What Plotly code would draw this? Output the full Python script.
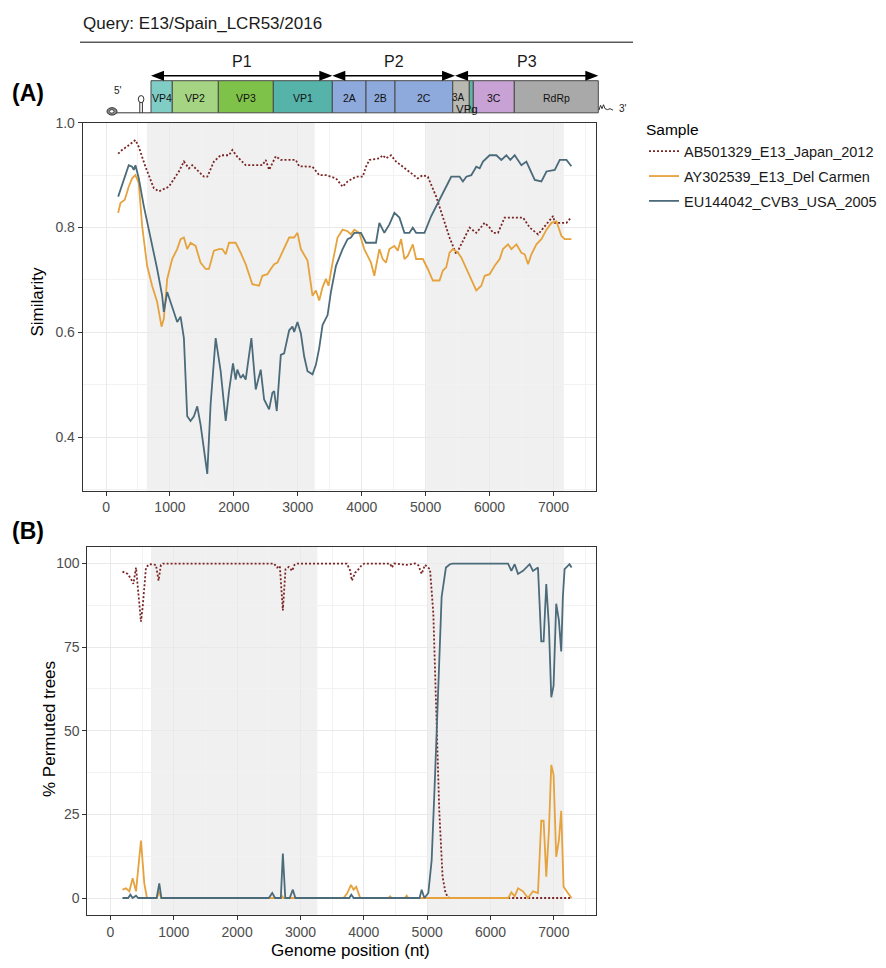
import plotly.graph_objects as go

# ---------------- data ----------------
sample_names = ["AB501329_E13_Japan_2012", "AY302539_E13_Del Carmen", "EU144042_CVB3_USA_2005"]
sample_colors = ["#7a2424", "#e6a23c", "#4b6b7a"]

# Panel A: similarity
jp_sim_x = [190, 250, 355, 460, 512, 617, 748, 826, 983, 1140, 1218, 1296, 1349, 1453, 1532, 1584, 1688, 1793, 1924, 1976,
            2054, 2185, 2446, 2499, 2551, 2656, 2734, 2969, 3021, 3230, 3335, 3440, 3597, 3701, 3779, 3910, 4015, 4067, 4119,
            4276, 4328, 4380, 4459, 4537, 4668, 4772, 4877, 4956, 5034, 5165, 5270, 5374, 5479, 5531, 5609, 5688, 5792, 5923,
            6001, 6053, 6132, 6236, 6524, 6628, 6759, 6864, 6994, 7020, 7203, 7280]
jp_sim_y = [0.941, 0.948, 0.957, 0.967, 0.954, 0.916, 0.875, 0.869, 0.878, 0.907, 0.926, 0.913, 0.919, 0.907, 0.897, 0.897,
            0.926, 0.938, 0.938, 0.948, 0.935, 0.919, 0.919, 0.929, 0.910, 0.936, 0.929, 0.929, 0.917, 0.916, 0.900, 0.900,
            0.894, 0.878, 0.888, 0.897, 0.897, 0.916, 0.929, 0.932, 0.938, 0.932, 0.938, 0.926, 0.913, 0.904, 0.894, 0.900,
            0.897, 0.859, 0.822, 0.781, 0.749, 0.762, 0.781, 0.800, 0.790, 0.809, 0.800, 0.790, 0.790, 0.819, 0.819, 0.800,
            0.787, 0.803, 0.822, 0.809, 0.809, 0.820]

dc_sim_x = [190, 225, 293, 355, 408, 460, 512, 565, 643, 721, 800, 868, 904, 957, 1035, 1113, 1166, 1218, 1270, 1322, 1401,
            1479, 1558, 1610, 1688, 1767, 1819, 1872, 1924, 2028, 2106, 2185, 2289, 2394, 2446, 2525, 2577, 2630, 2682, 2786,
            2865, 2943, 2995, 3048, 3152, 3230, 3283, 3335, 3387, 3440, 3481, 3544, 3622, 3701, 3779, 3831, 3884, 3962, 4040,
            4145, 4197, 4276, 4328, 4380, 4433, 4511, 4563, 4616, 4668, 4720, 4799, 4851, 4956, 5034, 5113, 5217, 5270, 5322,
            5374, 5426, 5505, 5557, 5636, 5714, 5792, 5871, 5923, 6001, 6080, 6158, 6210, 6289, 6341, 6420, 6498, 6550, 6602,
            6654, 6733, 6811, 6890, 6968, 7046, 7124, 7176, 7280]
dc_sim_y = [0.828, 0.847, 0.853, 0.878, 0.894, 0.900, 0.885, 0.803, 0.727, 0.689, 0.658, 0.611, 0.626, 0.702, 0.740, 0.759,
            0.778, 0.781, 0.759, 0.771, 0.765, 0.733, 0.721, 0.721, 0.756, 0.759, 0.759, 0.749, 0.771, 0.771, 0.752, 0.730,
            0.692, 0.689, 0.708, 0.711, 0.721, 0.730, 0.733, 0.759, 0.781, 0.781, 0.790, 0.759, 0.737, 0.670, 0.680, 0.661,
            0.686, 0.702, 0.689, 0.733, 0.781, 0.796, 0.793, 0.787, 0.796, 0.790, 0.759, 0.733, 0.708, 0.759, 0.740, 0.733,
            0.759, 0.765, 0.756, 0.778, 0.740, 0.746, 0.768, 0.740, 0.740, 0.721, 0.699, 0.699, 0.718, 0.724, 0.752, 0.759,
            0.752, 0.743, 0.721, 0.702, 0.680, 0.689, 0.708, 0.711, 0.727, 0.740, 0.759, 0.768, 0.759, 0.768, 0.752, 0.749,
            0.730, 0.749, 0.768, 0.778, 0.796, 0.809, 0.812, 0.784, 0.778, 0.778]

cv_sim_x = [190, 251, 303, 355, 408, 434, 460, 512, 591, 669, 721, 800, 878, 904, 957, 1009, 1061, 1113, 1166, 1218, 1270,
            1322, 1375, 1427, 1479, 1532, 1584, 1636, 1715, 1793, 1872, 1924, 1986, 2028, 2054, 2106, 2143, 2185, 2274, 2342,
            2420, 2473, 2551, 2603, 2630, 2671, 2734, 2786, 2865, 2917, 2943, 2995, 3048, 3100, 3152, 3230, 3283, 3335, 3387,
            3466, 3518, 3597, 3649, 3701, 3779, 3831, 3884, 3988, 4067, 4223, 4276, 4354, 4433, 4511, 4590, 4668, 4746, 4799,
            4851, 4982, 5087, 5191, 5322, 5400, 5531, 5583, 5636, 5714, 5792, 5845, 5897, 6001, 6106, 6184, 6263, 6325, 6393,
            6498, 6576, 6707, 6811, 6890, 7020, 7098, 7203, 7280]
cv_sim_y = [0.859, 0.882, 0.900, 0.919, 0.916, 0.910, 0.919, 0.894, 0.841, 0.796, 0.771, 0.721, 0.670, 0.639, 0.677, 0.658,
            0.636, 0.620, 0.630, 0.589, 0.440, 0.431, 0.440, 0.459, 0.424, 0.381, 0.330, 0.463, 0.589, 0.526, 0.431, 0.488,
            0.541, 0.510, 0.529, 0.513, 0.519, 0.510, 0.589, 0.491, 0.529, 0.472, 0.453, 0.485, 0.488, 0.450, 0.557, 0.560,
            0.604, 0.611, 0.601, 0.620, 0.598, 0.554, 0.526, 0.520, 0.538, 0.570, 0.614, 0.633, 0.677, 0.727, 0.743, 0.759,
            0.778, 0.781, 0.790, 0.790, 0.771, 0.771, 0.809, 0.790, 0.806, 0.828, 0.819, 0.790, 0.790, 0.800, 0.790, 0.790,
            0.822, 0.847, 0.878, 0.897, 0.897, 0.888, 0.897, 0.900, 0.916, 0.913, 0.926, 0.938, 0.938, 0.929, 0.938, 0.929,
            0.938, 0.919, 0.926, 0.891, 0.888, 0.907, 0.910, 0.929, 0.929, 0.917]

# Panel B: % permuted trees (bootscan)
jp_boot_x = [190, 273, 325, 362, 404, 440, 482, 509, 561, 614, 718, 760, 797, 830, 2580, 2632, 2674, 2722, 2764, 2816, 2869,
             2905, 2950, 3733, 3786, 3812, 3865, 3917, 3970, 4010, 4415, 4442, 4480, 4677, 4808, 4860, 4913, 4966, 5045, 5097,
             5149, 5191, 5243, 5290, 5333, 5360, 7280]
jp_boot_y = [97.6, 96.9, 95.4, 93.9, 98.8, 91.0, 82.6, 87.0, 98.8, 99.8, 99.6, 94.9, 99.6, 100, 100, 98.8, 99.3, 86.0, 98.3,
             99.0, 97.8, 99.6, 100, 100, 97.8, 94.9, 97.3, 98.3, 99.6, 100, 100, 98.8, 100, 99.6, 100, 99.5, 96.9, 99.6, 98.3,
             85.1, 55.6, 26.1, 6.4, 1.5, 0.2, 0, 0]

dc_boot_x = [190, 246, 299, 351, 404, 482, 535, 577, 730, 771, 800, 2690, 2711, 2730, 3680, 3740, 3797, 3839, 3880, 3943,
             4390, 4415, 4440, 4650, 4677, 4700, 6280, 6329, 6381, 6434, 6513, 6591, 6670, 6749, 6801, 6838, 6880, 6922, 6959,
             6995, 7037, 7079, 7116, 7153, 7221, 7280]
dc_boot_y = [2.5, 2.9, 2.0, 5.9, 2.0, 17.2, 4.4, 0, 0, 2.0, 0, 0, 0.5, 0, 0, 1.5, 3.9, 2.5, 3.4, 0, 0, 0.5, 0, 0, 0.7, 0,
             0, 1.7, 0.5, 2.9, 2.0, 0, 2.0, 1.5, 23.1, 23.1, 6.4, 20.2, 39.8, 36.9, 12.3, 17.2, 26.1, 3.4, 1.5, 0]

cv_boot_x = [190, 280, 315, 350, 404, 440, 730, 771, 805, 2500, 2554, 2600, 2690, 2722, 2760, 2830, 2879, 2920, 3770, 3802,
             3840, 4880, 4913, 4956, 5018, 5071, 5123, 5176, 5228, 5296, 5359, 5400, 6277, 6329, 6381, 6434, 6513, 6618, 6670,
             6749, 6801, 6838, 6880, 6922, 6959, 6995, 7037, 7079, 7116, 7142, 7169, 7247, 7280]
cv_boot_y = [0, 0, 1.0, 0, 0.7, 0, 0, 4.4, 0, 0, 1.5, 0, 0, 13.3, 0, 0, 2.5, 0, 0, 1.0, 0, 0, 2.5, 0, 1.5, 11.3, 35.9, 65.4,
             90.0, 98.8, 99.8, 100, 100, 97.8, 99.8, 96.9, 97.8, 99.8, 97.8, 98.8, 76.7, 76.7, 93.9, 81.1, 60.0, 63.4, 88.0,
             83.1, 73.7, 90.0, 98.3, 99.8, 98.8]

# shaded genome regions (P1 and P3) on the plot axis, nt
shade_starts = [640, 5010]
shade_ends = [3265, 7162]

# genome map (schematic coordinates, nt)
gene_names = ["VP4", "VP2", "VP3", "VP1", "2A", "2B", "2C", "3A", "VPg", "3C", "RdRp"]
gene_starts = [743, 1055, 1730, 2536, 3401, 3895, 4320, 5166, 5409, 5468, 6069]
gene_ends = [1055, 1730, 2536, 3401, 3895, 4320, 5166, 5409, 5468, 6069, 7300]
gene_colors = ["#80cdc6", "#a5d483", "#7fc24a", "#55b3a9", "#8eaadc", "#8eaadc", "#8eaadc", "#b9b9b1", "#5fb4a6",
               "#c8a2d5", "#a9a9a9"]
poly_names = ["P1", "P2", "P3"]
poly_bounds = [743, 3401, 5200, 7300]

x_ticks = [0, 1000, 2000, 3000, 4000, 5000, 6000, 7000]
sim_ticks = [0.4, 0.6, 0.8, 1.0]
boot_ticks = [0, 25, 50, 75, 100]

# ---------------- layout helpers ----------------
W, H = 886, 968
FONT = "Liberation Sans, Arial, Helvetica, sans-serif"


def pxx(p):
    return p / W


def pxy(p):
    return 1 - p / H


MAP_L, MAP_R = 151.0, 598.3  # pixel span of the genome schematic


def map_px(nt):
    return MAP_L + (nt - gene_starts[0]) / (gene_ends[-1] - gene_starts[0]) * (MAP_R - MAP_L)


fig = go.Figure()

series_a = [(jp_sim_x, jp_sim_y), (dc_sim_x, dc_sim_y), (cv_sim_x, cv_sim_y)]
series_b = [(jp_boot_x, jp_boot_y), (dc_boot_x, dc_boot_y), (cv_boot_x, cv_boot_y)]
dashes = ["2px,2px", "solid", "solid"]

for i, name in enumerate(sample_names):
    fig.add_trace(go.Scatter(
        x=series_a[i][0], y=series_a[i][1], mode="lines", name=name,
        line=dict(color=sample_colors[i], width=1.8, dash=dashes[i]),
        legendgroup=name, showlegend=True, xaxis="x", yaxis="y"))
for i, name in enumerate(sample_names):
    fig.add_trace(go.Scatter(
        x=series_b[i][0], y=series_b[i][1], mode="lines", name=name,
        line=dict(color=sample_colors[i], width=1.8, dash=dashes[i]),
        legendgroup=name, showlegend=False, xaxis="x2", yaxis="y2"))

shapes = []
for s, e in zip(shade_starts, shade_ends):
    for xr, yr in (("x", "y domain"), ("x2", "y2 domain")):
        shapes.append(dict(type="rect", xref=xr, yref=yr, x0=s, x1=e, y0=0, y1=1,
                           fillcolor="#f0f0f0", line=dict(width=0), layer="below"))

# title rule
shapes.append(dict(type="line", xref="paper", yref="paper", x0=pxx(80), x1=pxx(633), y0=pxy(34.6), y1=pxy(34.6),
                   line=dict(color="#5a5a5a", width=1.5)))

# genome boxes
BOX_T, BOX_B = 73.3, 105.7
for name, s, e, c in zip(gene_names, gene_starts, gene_ends, gene_colors):
    shapes.append(dict(type="rect", xref="paper", yref="paper", x0=pxx(map_px(s)), x1=pxx(map_px(e)),
                       y0=pxy(BOX_B), y1=pxy(BOX_T), fillcolor=c, line=dict(color="#4a4a4a", width=1)))

# polyprotein arrows
ARR_Y, HL, HW = 68.3, 13, 5
for k in range(3):
    a, b = map_px(poly_bounds[k]), map_px(poly_bounds[k + 1])
    shapes.append(dict(type="line", xref="paper", yref="paper", x0=pxx(a + 3), x1=pxx(b - 3), y0=pxy(ARR_Y), y1=pxy(ARR_Y),
                       line=dict(color="black", width=1.6)))
    for tip, d in ((a, 1), (b, -1)):
        path = "M {:.5f},{:.5f} L {:.5f},{:.5f} L {:.5f},{:.5f} Z".format(
            pxx(tip), pxy(ARR_Y), pxx(tip + d * HL), pxy(ARR_Y - HW), pxx(tip + d * HL), pxy(ARR_Y + HW))
        shapes.append(dict(type="path", xref="paper", yref="paper", path=path, fillcolor="black", line=dict(width=0)))

# 5' UTR schematic
shapes.append(dict(type="line", xref="paper", yref="paper", x0=pxx(116), x1=pxx(MAP_L), y0=pxy(105.7), y1=pxy(105.7),
                   line=dict(color="#333", width=1)))
shapes.append(dict(type="circle", xref="paper", yref="paper", x0=pxx(107), x1=pxx(117), y0=pxy(108), y1=pxy(100.5),
                   fillcolor="#8a8a8a", line=dict(color="#333", width=1)))
shapes.append(dict(type="circle", xref="paper", yref="paper", x0=pxx(109.5), x1=pxx(114), y0=pxy(106), y1=pxy(102.5),
                   fillcolor="white", line=dict(color="#333", width=0.8)))
for sx in (139.8, 142.4):
    shapes.append(dict(type="line", xref="paper", yref="paper", x0=pxx(sx), x1=pxx(sx), y0=pxy(105.7), y1=pxy(95),
                       line=dict(color="#333", width=1)))
shapes.append(dict(type="circle", xref="paper", yref="paper", x0=pxx(138.3), x1=pxx(143.9), y0=pxy(95.5), y1=pxy(88.3),
                   line=dict(color="#333", width=1)))
# 3' poly-A squiggle
sq = [(599, 103), (600.5, 98), (602, 101.5), (603.5, 97.5), (605, 101.5), (607.5, 102.5), (610, 101.5), (613, 103)]
shapes.append(dict(type="path", xref="paper", yref="paper",
                   path="M " + " L ".join("{:.5f},{:.5f}".format(pxx(a), pxy(b)) for a, b in sq),
                   line=dict(color="#333", width=1)))

annotations = []


def txt(text, x, y, size, color="#1a1a1a", xanchor="center", bold=False, angle=0):
    annotations.append(dict(text=("<b>%s</b>" % text) if bold else text, x=pxx(x), y=pxy(y), xref="paper",
                            yref="paper", showarrow=False, xanchor=xanchor, yanchor="middle", textangle=angle,
                            font=dict(family=FONT, size=size, color=color)))


txt("Query: E13/Spain_LCR53/2016", 81, 16, 17, xanchor="left")
txt("(A)", 10, 86, 23, color="black", xanchor="left", bold=True)
txt("(B)", 10, 527, 23, color="black", xanchor="left", bold=True)
for k, pname in enumerate(poly_names):
    cx = (map_px(poly_bounds[k]) + map_px(poly_bounds[k + 1])) / 2
    txt(pname, cx, 54, 16)
for name, s, e in zip(gene_names, gene_starts, gene_ends):
    cx = (map_px(s) + map_px(e)) / 2
    if name == "VPg":
        txt(name, cx - 4, 101.5, 11.5, color="#111")
    elif name == "3A":
        txt(name, cx - 3, 90.5, 10, color="#111")
    else:
        txt(name, cx, 90.5, 10.5, color="#111")
txt("5'", 118, 83, 10)
txt("3'", 623, 101.5, 10)
txt("Similarity", 38, 297, 17, color="black", angle=-90)
txt("% Permuted trees", 50, 727, 17, color="black", angle=-90)
txt("Genome position (nt)", 350, 950, 17, color="black")

axis_common = dict(showline=True, linecolor="#333333", linewidth=1, mirror=True, ticks="outside", ticklen=4,
                   tickcolor="#333333", tickwidth=1, tickfont=dict(family=FONT, size=14, color="#4d4d4d"),
                   showgrid=True, gridcolor="#e9e9e9", gridwidth=1, zeroline=False)
minor_x = dict(dtick=500, tick0=0, showgrid=True, gridcolor="#f2f2f2", gridwidth=0.6, ticks="")

fig.update_layout(
    width=W, height=H, margin=dict(l=0, r=0, t=0, b=0),
    paper_bgcolor="white", plot_bgcolor="white",
    font=dict(family=FONT, color="#1a1a1a"),
    xaxis=dict(domain=[pxx(82.7), pxx(596)], range=[-365, 7665], tickvals=x_ticks, anchor="y",
               minor=minor_x, **axis_common),
    yaxis=dict(domain=[pxy(486.7), pxy(115.7)], range=[0.298, 1.0], tickvals=sim_ticks, tickformat=".1f", anchor="x",
               minor=dict(tickvals=[0.3, 0.5, 0.7, 0.9], showgrid=True, gridcolor="#f2f2f2", gridwidth=0.6, ticks=""),
               **axis_common),
    xaxis2=dict(domain=[pxx(87.3), pxx(596)], range=[-365, 7665], tickvals=x_ticks, anchor="y2",
                minor=minor_x, **axis_common),
    yaxis2=dict(domain=[pxy(914.3), pxy(543.3)], range=[-5, 105], tickvals=boot_ticks, anchor="x2",
                minor=dict(tickvals=[12.5, 37.5, 62.5, 87.5], showgrid=True, gridcolor="#f2f2f2", gridwidth=0.6,
                           ticks=""),
                **axis_common),
    shapes=shapes, annotations=annotations,
    legend=dict(x=pxx(644), y=pxy(108), xanchor="left", yanchor="top", bgcolor="rgba(0,0,0,0)",
                title=dict(text="Sample", font=dict(family=FONT, size=15.5, color="black")),
                font=dict(family=FONT, size=14.5, color="#1a1a1a"), tracegroupgap=3, itemwidth=30,
                traceorder="grouped"),
)

fig.write_html("out.html")
